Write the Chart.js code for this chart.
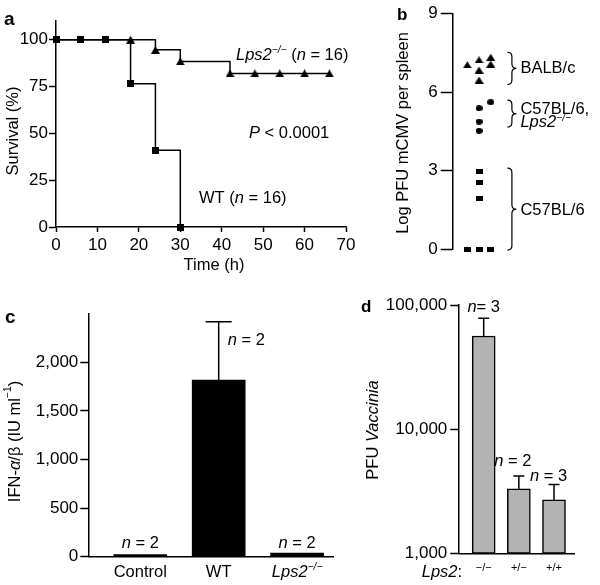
<!DOCTYPE html>
<html><head><meta charset="utf-8">
<script src="https://cdn.jsdelivr.net/npm/chart.js@4.4.1/dist/chart.umd.min.js"></script>
<style>
html,body{margin:0;padding:0;background:#fff;}
#wrap{position:relative;width:600px;height:585px;overflow:hidden;background:#fff;}
#wrap canvas{position:absolute;left:0;top:0;}
</style></head>
<body>
<div id="wrap">
<canvas id="ca" width="600" height="585"></canvas>
<canvas id="cb" width="600" height="585"></canvas>
<canvas id="cc" width="600" height="585"></canvas>
<canvas id="cd" width="600" height="585"></canvas>
</div>
<script>
// ---------- DATA ----------
// a: Kaplan-Meier survival
const timeWT = [0, 6, 12, 18, 24, 30];
const survWT = [100, 100, 100, 76.5, 41, 0];
const timeLps2 = [0, 6, 12, 18, 24, 30, 42, 48, 54, 60, 66];
const survLps2 = [100, 100, 100, 100, 94.6, 88.4, 82, 82, 82, 82, 82];
const timeTicks = [0, 10, 20, 30, 40, 50, 60, 70];
const survivalTicks = [0, 25, 50, 75, 100];

// b: log PFU mCMV per spleen (column = jitter slot within the group)
const mcmvBALBc = [7.05, 7.24, 6.85, 6.47, 7.34, 7.08];
const mcmvBALBcCol = [-1, 0, 0, 0, 1, 1];
const mcmvB6Lps2 = [5.62, 5.39, 4.88, 4.53];
const mcmvB6Lps2Col = [1, 0, 0, 0];
const mcmvB6 = [2.97, 2.56, 1.95, 0, 0, 0];
const mcmvB6Col = [0, 0, 0, -1, 0, 1];
const mcmvTicks = [0, 3, 6, 9];

// c: IFN-alpha/beta
const ifnGroups = ['Control', 'WT', 'Lps2−/−'];
const ifnMeans = [22, 1818, 38];
const ifnErr = [0, 600, 0];
const ifnN = [2, 2, 2];
const ifnTicks = [0, 500, 1000, 1500, 2000];

// d: PFU Vaccinia
const vacGenotypes = ['−/−', '+/−', '+/+'];
const vacMeans = [56300, 3300, 2690];
const vacErr = [21800, 890, 900];
const vacN = [3, 2, 3];
const vacTicks = [1000, 10000, 100000];

// ---------- HELPERS ----------
const FONT = '"Liberation Sans", Arial, Helvetica, sans-serif';
const FS = 16.5;
const TFS = 17;
function fnt(size, italic, bold) {
  return (italic ? 'italic ' : '') + (bold ? 'bold ' : '') + size + 'px ' + FONT;
}
function drawRich(ctx, x, y, segs, size, align) {
  let total = 0;
  const parts = segs.map(([t, f]) => {
    f = f || '';
    const sup = f.includes('s');
    const sz = sup ? size * 0.62 : size;
    const font = fnt(sz, f.includes('i'), f.includes('b'));
    ctx.font = font;
    const w = ctx.measureText(t).width;
    total += w;
    return { t, font, w, dy: sup ? -size * 0.4 : 0 };
  });
  let cx = align === 'center' ? x - total / 2 : (align === 'right' ? x - total : x);
  ctx.textAlign = 'left';
  for (const p of parts) { ctx.font = p.font; ctx.fillText(p.t, cx, y + p.dy); cx += p.w; }
}
function drawRotated(ctx, cx, cy, segs, size) {
  ctx.save();
  ctx.translate(cx, cy);
  ctx.rotate(-Math.PI / 2);
  ctx.textBaseline = 'middle';
  drawRich(ctx, 0, 0, segs, size, 'center');
  ctx.restore();
}
function marker(kind, w, h) {
  const c = document.createElement('canvas');
  c.width = w; c.height = h;
  const g = c.getContext('2d');
  g.fillStyle = '#000';
  g.beginPath();
  if (kind === 'rect') g.rect(0, 0, w, h);
  else if (kind === 'ellipse') g.ellipse(w / 2, h / 2, w / 2, h / 2, 0, 0, Math.PI * 2);
  else { g.moveTo(w / 2, 0); g.lineTo(w, h); g.lineTo(0, h); g.closePath(); }
  g.fill();
  return c;
}
function brace(ctx, x, y1, y2, w) {
  const ym = (y1 + y2) / 2, r = Math.min(w / 2, (y2 - y1) / 4), xm = x + w / 2;
  ctx.beginPath();
  ctx.moveTo(x, y1);
  ctx.quadraticCurveTo(xm, y1, xm, y1 + r);
  ctx.lineTo(xm, ym - r);
  ctx.quadraticCurveTo(xm, ym, x + w, ym);
  ctx.quadraticCurveTo(xm, ym, xm, ym + r);
  ctx.lineTo(xm, y2 - r);
  ctx.quadraticCurveTo(xm, y2, x, y2);
  ctx.stroke();
}
function base() {
  return { responsive: false, animation: false, events: [],
    plugins: { legend: { display: false }, tooltip: { enabled: false } } };
}
function setTicks(list) { return s => { s.ticks = list.map(v => ({ value: v })); }; }
function fmtComma(v) { return Number(v).toLocaleString('en-US'); }
function errorBars(means, errs, capHalf) {
  return { id: 'errbars', afterDatasetsDraw(chart) {
    const { ctx, scales: { x, y } } = chart;
    ctx.save(); ctx.strokeStyle = '#000'; ctx.lineWidth = 1.5;
    means.forEach((m, i) => {
      if (!errs[i]) return;
      const px = x.getPixelForValue(i), y0 = y.getPixelForValue(m), y1 = y.getPixelForValue(m + errs[i]);
      ctx.beginPath(); ctx.moveTo(px, y0); ctx.lineTo(px, y1);
      ctx.moveTo(px - capHalf, y1); ctx.lineTo(px + capHalf, y1); ctx.stroke();
    });
    ctx.restore();
  } };
}
const tickFont = { family: FONT, size: TFS };
function yAxis(min, max, list, tl, pad, width, fmt, type) {
  return { type: type || 'linear', min, max, afterBuildTicks: setTicks(list),
    afterFit: s => { s.width = width; },
    ticks: { color: '#000', font: tickFont, padding: pad, autoSkip: false, callback: fmt || (v => String(v)) },
    grid: { drawOnChartArea: false, drawTicks: true, tickLength: tl, tickColor: '#000', tickWidth: 1.5 },
    border: { display: true, color: '#000', width: 1.5 } };
}

// ---------- PANEL a ----------
const sqA = marker('rect', 7, 7), triA = marker('tri', 9, 8);
new Chart(document.getElementById('ca'), {
  type: 'line',
  data: { datasets: [
    { data: timeWT.map((t, i) => ({ x: t, y: survWT[i] })), stepped: 'before', borderColor: '#000', borderWidth: 1.5,
      pointStyle: sqA, pointRadius: 4, fill: false, clip: false },
    { data: timeLps2.map((t, i) => ({ x: t, y: survLps2[i] })), stepped: 'before', borderColor: '#000', borderWidth: 1.5,
      pointStyle: triA, pointRadius: timeLps2.map(t => t >= 18 ? 4 : 0), fill: false, clip: false }
  ] },
  options: Object.assign(base(), {
    layout: { padding: { left: 0, top: 21, right: 254, bottom: 0 } },
    scales: {
      x: { type: 'linear', min: 0, max: 70, afterBuildTicks: setTicks(timeTicks), afterFit: s => { s.height = 585 - 227; },
        ticks: { color: '#000', font: tickFont, padding: 3, maxRotation: 0, autoSkip: false },
        grid: { drawOnChartArea: false, drawTicks: true, tickLength: 5, tickColor: '#000', tickWidth: 1.5 },
        border: { display: true, color: '#000', width: 1.5 } },
      y: yAxis(0, 110, survivalTicks, 7, 1, 56)
    }
  }),
  plugins: [{ id: 'annA', afterDraw(chart) {
    const ctx = chart.ctx; ctx.save(); ctx.fillStyle = '#000'; ctx.textBaseline = 'alphabetic';
    drawRich(ctx, 4, 25, [['a', 'b']], 19, 'left');
    drawRotated(ctx, 13.5, 131, [['Survival (%)']], FS);
    drawRich(ctx, 214, 270, [['Time (h)']], FS, 'center');
    drawRich(ctx, 236, 60, [['Lps2', 'i'], ['−/−', 'is'], [' ('], ['n', 'i'], [' = 16)']], FS, 'left');
    drawRich(ctx, 249, 137.5, [['P', 'i'], [' < 0.0001']], FS, 'left');
    drawRich(ctx, 199, 203, [['WT ('], ['n', 'i'], [' = 16)']], FS, 'left');
    ctx.restore();
  } }]
});

// ---------- PANEL b ----------
const triB = marker('tri', 9, 7), dotB = marker('ellipse', 7, 6), sqB = marker('rect', 7, 5);
new Chart(document.getElementById('cb'), {
  type: 'scatter',
  data: { datasets: [
    { data: mcmvBALBc.map((v, i) => ({ x: mcmvBALBcCol[i], y: v })), pointStyle: triB, pointRadius: 4, clip: false },
    { data: mcmvB6Lps2.map((v, i) => ({ x: mcmvB6Lps2Col[i], y: v })), pointStyle: dotB, pointRadius: 4, clip: false },
    { data: mcmvB6.map((v, i) => ({ x: mcmvB6Col[i], y: v })), pointStyle: sqB, pointRadius: 4, clip: false }
  ] },
  options: Object.assign(base(), {
    layout: { padding: { left: 340, top: 13.8, right: 97.6, bottom: 335.7 } },
    scales: {
      x: { type: 'linear', min: -2.25, max: 2, display: false },
      y: yAxis(0, 9, mcmvTicks, 12, 3, 112.7)
    }
  }),
  plugins: [{ id: 'annB', afterDraw(chart) {
    const ctx = chart.ctx, y = chart.scales.y, right = chart.chartArea.right;
    ctx.save(); ctx.fillStyle = '#000'; ctx.strokeStyle = '#000'; ctx.lineWidth = 1.2; ctx.textBaseline = 'alphabetic';
    drawRich(ctx, 397, 20, [['b', 'b']], 17, 'left');
    drawRotated(ctx, 403.5, 133, [['Log PFU mCMV per spleen']], FS);
    const bx = right + 5, bw = 9, tx = right + 18;
    brace(ctx, bx, y.getPixelForValue(7.53), y.getPixelForValue(6.3), bw);
    brace(ctx, bx, y.getPixelForValue(5.7), y.getPixelForValue(4.67), bw);
    brace(ctx, bx, y.getPixelForValue(3.1), y.getPixelForValue(-0.03), bw);
    drawRich(ctx, tx, y.getPixelForValue(6.73), [['BALB/c']], FS, 'left');
    drawRich(ctx, tx, y.getPixelForValue(5.17), [['C57BL/6,']], FS, 'left');
    drawRich(ctx, tx, y.getPixelForValue(4.67), [['Lps2', 'i'], ['−/−', 'is']], FS, 'left');
    drawRich(ctx, tx, y.getPixelForValue(1.31), [['C57BL/6']], FS, 'left');
    ctx.restore();
  } }]
});

// ---------- PANEL c ----------
new Chart(document.getElementById('cc'), {
  type: 'bar',
  data: { datasets: [
    { data: ifnMeans.map((v, i) => ({ x: i, y: v })), backgroundColor: '#000', borderWidth: 0, barThickness: 53 }
  ] },
  options: Object.assign(base(), {
    layout: { padding: { left: 0, top: 313.7, right: 267, bottom: 0 } },
    scales: {
      x: { type: 'linear', min: -0.663, max: 2.458, offset: false, afterBuildTicks: setTicks([0, 1, 2]),
        afterFit: s => { s.height = 585 - 556.7; },
        ticks: { color: '#000', font: { family: FONT, size: FS }, padding: 6, maxRotation: 0, autoSkip: false,
          callback: v => (v < 2 ? ifnGroups[v] : '') },
        grid: { display: false, drawTicks: false, offset: false },
        border: { display: true, color: '#000', width: 1.5 } },
      y: yAxis(0, 2500, ifnTicks, 8, 2, 88.3, fmtComma)
    }
  }),
  plugins: [errorBars(ifnMeans, ifnErr, 13), { id: 'annC', afterDraw(chart) {
    const ctx = chart.ctx, x = chart.scales.x, y = chart.scales.y;
    ctx.save(); ctx.fillStyle = '#000'; ctx.textBaseline = 'alphabetic';
    drawRich(ctx, 5, 323, [['c', 'b']], 19, 'left');
    drawRotated(ctx, 15, 441.5, [['IFN-'], ['α', 'i'], ['/β (IU ml'], ['−1', 's'], [')']], FS);
    drawRich(ctx, x.getPixelForValue(0), 548, [['n', 'i'], [' = ' + ifnN[0]]], FS, 'center');
    drawRich(ctx, x.getPixelForValue(1) + 9, y.getPixelForValue(2182), [['n', 'i'], [' = ' + ifnN[1]]], FS, 'left');
    drawRich(ctx, x.getPixelForValue(2), 548, [['n', 'i'], [' = ' + ifnN[2]]], FS, 'center');
    drawRich(ctx, x.getPixelForValue(2), 577, [['Lps2', 'i'], ['−/−', 'is']], FS, 'center');
    ctx.restore();
  } }]
});

// ---------- PANEL d ----------
new Chart(document.getElementById('cd'), {
  type: 'bar',
  data: { datasets: [
    { data: vacMeans.map((v, i) => ({ x: i, y: [1000, v] })), backgroundColor: '#b3b3b3', borderColor: '#000',
      borderWidth: 1.5, borderSkipped: false, barThickness: 23 }
  ] },
  options: Object.assign(base(), {
    layout: { padding: { left: 340, top: 305, right: 26, bottom: 0 } },
    scales: {
      x: { type: 'linear', min: -0.723, max: 2.569, offset: false, afterBuildTicks: setTicks([0, 1, 2]),
        afterFit: s => { s.height = 585 - 553.3; },
        ticks: { color: '#000', font: { family: FONT, size: 11 }, padding: 8, maxRotation: 0, autoSkip: false,
          callback: v => vacGenotypes[v] },
        grid: { display: false, drawTicks: false, offset: false },
        border: { display: true, color: '#000', width: 1.5 } },
      y: yAxis(1000, 100000, vacTicks, 8, 3, 118.3, fmtComma, 'logarithmic')
    }
  }),
  plugins: [errorBars(vacMeans, vacErr, 5.5), { id: 'annD', afterDraw(chart) {
    const ctx = chart.ctx, x = chart.scales.x;
    ctx.save(); ctx.fillStyle = '#000'; ctx.textBaseline = 'alphabetic';
    drawRich(ctx, 361, 312, [['d', 'b']], 17, 'left');
    drawRotated(ctx, 373.5, 430, [['PFU '], ['Vaccinia', 'i']], FS);
    drawRich(ctx, x.getPixelForValue(0), 311.7, [['n', 'i'], ['= ' + vacN[0]]], FS, 'center');
    drawRich(ctx, x.getPixelForValue(1) - 6, 465.7, [['n', 'i'], [' = ' + vacN[1]]], FS, 'center');
    drawRich(ctx, x.getPixelForValue(2) - 5.5, 480.7, [['n', 'i'], [' = ' + vacN[2]]], FS, 'center');
    drawRich(ctx, 421.7, 577, [['Lps2', 'i'], [':']], FS, 'left');
    ctx.restore();
  } }]
});
</script>
</body></html>
